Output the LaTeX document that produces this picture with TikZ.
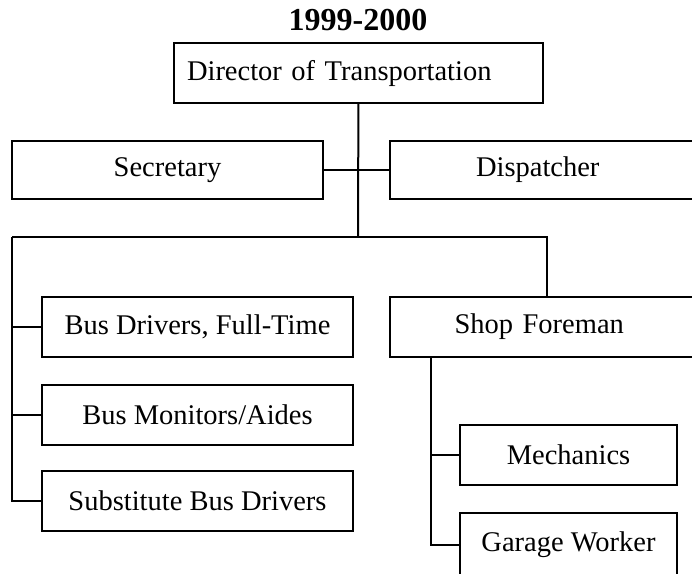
\documentclass[tikz,border=0pt]{standalone}
\usepackage{fontspec}
\setmainfont{Liberation Serif}

\begin{document}
\begin{tikzpicture}[x=1pt,y=-1pt,
  box/.style={draw, line width=2pt, inner sep=0pt, minimum height=60pt, font=\fontsize{28.5}{32}\selectfont},
  link/.style={line width=2pt}]
\useasboundingbox (0,0) rectangle (692,573);
\node[font=\fontsize{32}{36}\selectfont\bfseries] (title) at (358,20) {1999-2000};
\node[box, align=left, text width=343pt, inner xsep=13pt] (dir) at (358.5,73) {Director of Transportation};
\node[box, minimum width=311pt, minimum height=58pt] (sec) at (167.5,170) {Secretary};
\node[box, minimum height=58pt, text width=138pt, align=left, inner xsep=86pt] (disp) at (545,170) {Dispatcher};
\node[box, minimum width=311pt] (bft) at (197.5,327) {Bus Drivers, Full-Time};
\node[box, minimum width=311pt] (bma) at (197.5,415) {Bus Monitors/Aides};
\node[box, minimum width=311pt] (sbd) at (197.5,501) {Substitute Bus Drivers};
\node[box, text width=181pt, align=left, inner xsep=64.5pt] (shop) at (545,327) {Shop Foreman};
\node[box, minimum width=217pt] (mech) at (568.5,455) {Mechanics};
\node[box, minimum width=217pt, minimum height=64pt] (garage) at (568.5,545) {Garage Worker};

\coordinate (split) at (358,237);
\coordinate (lft) at (12,237);
\coordinate (rgt) at (547,237);
\coordinate (sf) at (431,357);

\path[draw,link] (dir) -- (split);
\path[draw,link] (sec) -- (disp);
\path[draw,link] (lft) -- (rgt) -- (rgt |- shop.north);
\path[draw,link] (lft) |- (sbd);
\path[draw,link] (lft |- bft) -- (bft);
\path[draw,link] (lft |- bma) -- (bma);
\path[draw,link] (sf) |- (garage);
\path[draw,link] (sf |- mech) -- (mech);
\end{tikzpicture}
\end{document}
